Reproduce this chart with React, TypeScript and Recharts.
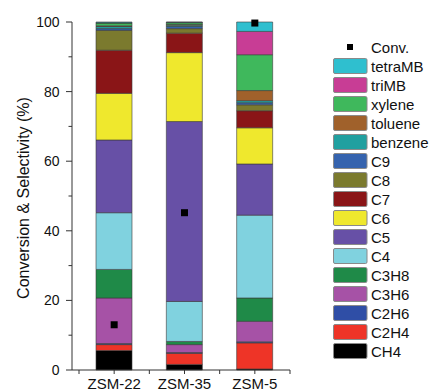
import React from 'react';
import { ComposedChart, Bar, Scatter, XAxis, YAxis } from 'recharts';

const categories = ['ZSM-22', 'ZSM-35', 'ZSM-5'];

const CH4 = [5.6, 1.6, 0.3];
const C2H4 = [1.7, 3.2, 7.5];
const C2H6 = [0.3, 0.2, 0.3];
const C3H6 = [13.1, 2.3, 5.9];
const C3H8 = [8.2, 0.9, 6.7];
const C4 = [16.3, 11.5, 23.8];
const C5 = [20.9, 51.7, 14.7];
const C6 = [13.4, 19.8, 10.4];
const C7 = [12.4, 5.6, 4.9];
const C8 = [5.7, 1.3, 1.7];
const C9 = [0.5, 0.6, 0.6];
const benzene = [0.6, 0.4, 0.6];
const toluene = [0.2, 0.2, 2.9];
const xylene = [0.8, 0.5, 10.3];
const triMB = [0.1, 0.1, 6.7];
const tetraMB = [0.2, 0.1, 2.7];
const conv = [13.0, 45.2, 99.7];

const seriesNames = ['CH4', 'C2H4', 'C2H6', 'C3H6', 'C3H8', 'C4', 'C5', 'C6', 'C7', 'C8', 'C9', 'benzene', 'toluene', 'xylene', 'triMB', 'tetraMB'];
const seriesValues = [CH4, C2H4, C2H6, C3H6, C3H8, C4, C5, C6, C7, C8, C9, benzene, toluene, xylene, triMB, tetraMB];
const seriesColors = ['#000000', '#ee3427', '#2f4ea6', '#a652a6', '#1f8a48', '#80d2df', '#6750a6', '#efe82d', '#8a1517', '#7b7a2e', '#3563ae', '#21a0a0', '#a0612b', '#3fb85c', '#c83d95', '#2fbfcf'];

const yTicks = [0, 10, 20, 30, 40, 50, 60, 70, 80, 90, 100];

const data = categories.map((c, i) => {
  const row: any = { cat: c, conv: conv[i] };
  seriesNames.forEach((n, k) => {
    row[n] = seriesValues[k][i];
  });
  return row;
});

const W = 432;
const H = 392;
const LEFT = 72;
const RIGHT = 290;
const TOP = 22;
const BOTTOM = 370;
const PADL = 7;
const BAND = (RIGHT - LEFT - PADL) / categories.length;
const FONT = 'Liberation Sans, Arial, sans-serif';
const AXIS_COLOR = '#333';

const XTick = (props: any) => {
  const { x, payload, index } = props;
  const last = index === categories.length - 1;
  return (
    <g>
      <line x1={x} x2={x} y1={BOTTOM} y2={BOTTOM + 4} stroke={AXIS_COLOR} strokeWidth={1} />
      <line x1={x - BAND / 2} x2={x - BAND / 2} y1={BOTTOM} y2={BOTTOM + 4} stroke={AXIS_COLOR} strokeWidth={1} />
      {last && <line x1={x + BAND / 2} x2={x + BAND / 2} y1={BOTTOM} y2={BOTTOM + 4} stroke={AXIS_COLOR} strokeWidth={1} />}
      <text x={x} y={389} textAnchor="middle" fontSize={15} fontFamily={FONT} fill="#111">
        {payload.value}
      </text>
    </g>
  );
};

const YTick = (props: any) => {
  const { y, payload } = props;
  const major = payload.value % 20 === 0;
  return (
    <g>
      <line x1={LEFT - (major ? 6 : 3.5)} x2={LEFT} y1={y} y2={y} stroke={AXIS_COLOR} strokeWidth={1} />
      {major && (
        <text x={59.5} y={y} textAnchor="end" dominantBaseline="central" fontSize={14} fontFamily={FONT} fill="#111">
          {payload.value}
        </text>
      )}
    </g>
  );
};

const SquareDot = (props: any) => {
  const { cx, cy } = props;
  return <rect x={cx - 3.5} y={cy - 3.5} width={7} height={7} fill="#000" />;
};

const YLabel = () => (
  <text
    x={23}
    y={198}
    transform="rotate(-90 23 198)"
    textAnchor="middle"
    dominantBaseline="central"
    fontSize={16}
    fontFamily={FONT}
    fill="#111"
  >
    Conversion &amp; Selectivity (%)
  </text>
);

export default function App() {
  const legendOrder = seriesNames.map((n, k) => ({ name: n, color: seriesColors[k] })).reverse();
  return (
    <div style={{ position: 'absolute', left: 0, top: 0, width: W, height: H, background: '#fff', fontFamily: FONT }}>
      <ComposedChart width={W} height={H} data={data} margin={{ top: TOP, right: W - RIGHT, bottom: 0, left: 0 }} barCategoryGap={17}>
        <XAxis
          dataKey="cat"
          height={H - BOTTOM}
          padding={{ left: PADL, right: 0 }}
          tickLine={false}
          axisLine={{ stroke: AXIS_COLOR, strokeWidth: 1 }}
          tick={<XTick />}
          interval={0}
        />
        <YAxis
          width={LEFT}
          domain={[0, 100]}
          ticks={yTicks}
          interval={0}
          tickLine={false}
          axisLine={{ stroke: AXIS_COLOR, strokeWidth: 1 }}
          tick={<YTick />}
          label={{ content: () => <YLabel /> }}
        />
        {seriesNames.map((n, k) => (
          <Bar
            key={n}
            dataKey={n}
            stackId="a"
            fill={seriesColors[k]}
            stroke="#3a3a3a"
            strokeWidth={0.6}
            isAnimationActive={false}
          />
        ))}
        <Scatter dataKey="conv" fill="#000" shape={<SquareDot />} isAnimationActive={false} />
      </ComposedChart>
      <svg width={W} height={H} style={{ position: 'absolute', left: 0, top: 0, pointerEvents: 'none' }}>
        <rect x={347} y={44} width={6} height={6} fill="#000" />
        <text x={371} y={47} dominantBaseline="central" fontSize={15} fontFamily={FONT} fill="#111">
          Conv.
        </text>
        {legendOrder.map((s, j) => {
          const cy = 66 + 19 * j;
          return (
            <g key={s.name}>
              <rect x={333.5} y={cy - 7.5} width={33.5} height={15} rx={1.5} fill={s.color} stroke="#8a8a8a" strokeWidth={1} />
              <text x={371} y={cy} dominantBaseline="central" fontSize={15} fontFamily={FONT} fill="#111">
                {s.name}
              </text>
            </g>
          );
        })}
      </svg>
    </div>
  );
}
